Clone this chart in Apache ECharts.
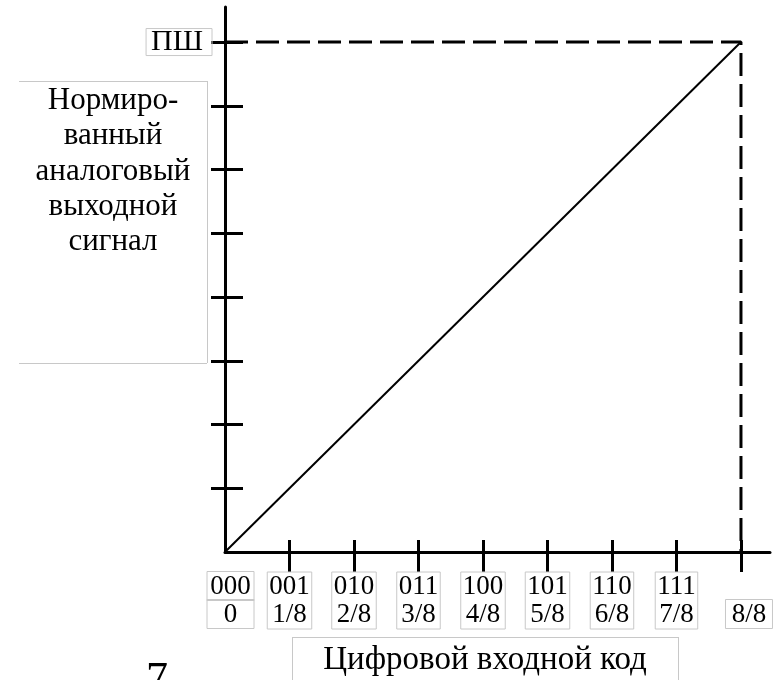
<!DOCTYPE html>
<html>
<head>
<meta charset="utf-8">
<script src="https://cdn.jsdelivr.net/npm/echarts@6/dist/echarts.min.js"></script>
<style>html,body{margin:0;padding:0;background:#fff}#c{width:779px;height:680px}</style>
</head>
<body>
<div id="c"></div>
<script>
// ---- data ----
var codes = ['000','001','010','011','100','101','110','111'];
var fractions = ['0','1/8','2/8','3/8','4/8','5/8','6/8','7/8','8/8'];
var tickValues = [1,2,3,4,5,6,7,8];
var boxedLabelValues = [1,2,3,4,5,6,7];
var fullScale = 8;
var transferLine = [[0,0],[8,8]];
var dashedGuide = [[0,8],[8,8],[8,0]];
var yTopLabel = 'ПШ';
var yTitleLines = ['Нормиро-','ванный','аналоговый','выходной','сигнал'];
var xTitle = 'Цифровой входной код';
var figNumber = '7';

var FONT = '"Liberation Serif","Times New Roman",serif';
var BOX = '#c8c8c8';

var chart = echarts.init(document.getElementById('c'), null, {renderer:'canvas'});

var option = {
  backgroundColor:'#fff',
  animation:false,
  grid:{left:225,right:9,top:7,bottom:128,containLabel:false},
  xAxis:[{
    type:'value',min:0,max:8.45,
    axisLine:{show:true,lineStyle:{color:'#000',width:3}},
    axisTick:{show:true,customValues:tickValues,inside:false,length:20,lineStyle:{color:'#000',width:3}},
    splitLine:{show:false},
    axisLabel:{
      show:true,customValues:boxedLabelValues,margin:20,
      formatter:function(v){return codes[v]+'\n'+fractions[v];},
      fontFamily:FONT,fontSize:27,color:'#000',lineHeight:28,
      borderColor:BOX,borderWidth:1,padding:[1,2,0,2]
    }
  },{
    type:'value',min:0,max:8.45,position:'bottom',
    axisLine:{show:false},
    axisTick:{show:true,customValues:tickValues,inside:true,length:12,lineStyle:{color:'#000',width:3}},
    splitLine:{show:false},
    axisLabel:{
      show:true,customValues:[0,8],margin:20,
      formatter:function(v){
        if(v===0){return '{sp|}{b|'+codes[0]+'}\n{sp|}{b|'+fractions[0]+'}';}
        return '{e|}\n{sp8|}{b|'+fractions[v]+'}';
      },
      fontFamily:FONT,fontSize:27,color:'#000',lineHeight:28,
      rich:{
        sp:{width:11,height:28},
        sp8:{width:16,height:28},
        e:{height:28,lineHeight:28},
        b:{fontFamily:FONT,fontSize:27,color:'#000',borderColor:BOX,borderWidth:1,width:39,align:'center',padding:[1,4,0,4],lineHeight:28,height:28}
      }
    }
  }],
  yAxis:[{
    type:'value',min:0,max:8.55,
    axisLine:{show:true,lineStyle:{color:'#000',width:3}},
    axisTick:{show:true,customValues:tickValues,inside:false,length:14,lineStyle:{color:'#000',width:3}},
    splitLine:{show:false},
    axisLabel:{
      show:true,customValues:[fullScale],margin:13,
      formatter:function(){return yTopLabel;},
      fontFamily:FONT,fontSize:30,color:'#000',lineHeight:27,
      borderColor:BOX,borderWidth:1,padding:[0,9,0,5]
    }
  },{
    type:'value',min:0,max:8.55,position:'left',
    axisLine:{show:false},
    axisTick:{show:true,customValues:tickValues,inside:true,length:18,lineStyle:{color:'#000',width:3}},
    splitLine:{show:false},
    axisLabel:{show:false}
  }],
  series:[{
    type:'line',xAxisIndex:0,yAxisIndex:0,data:dashedGuide,symbol:'none',
    lineStyle:{color:'#000',width:3,type:[23,8]},z:3
  },{
    type:'line',xAxisIndex:0,yAxisIndex:0,data:transferLine,symbol:'none',
    lineStyle:{color:'#000',width:2},z:4
  }],
  graphic:[]
};

// y title box (no left border)
var g = [];
g.push({type:'line',shape:{x1:19,y1:81.5,x2:207,y2:81.5},style:{stroke:BOX,lineWidth:1}});
g.push({type:'line',shape:{x1:207.5,y1:81,x2:207.5,y2:363},style:{stroke:BOX,lineWidth:1}});
g.push({type:'line',shape:{x1:19,y1:363.5,x2:207,y2:363.5},style:{stroke:BOX,lineWidth:1}});
yTitleLines.forEach(function(t,i){
  g.push({type:'text',x:113,y:101+i*35.2,style:{text:t,font:'31px '+FONT,fill:'#000',textAlign:'center',textVerticalAlign:'middle'}});
});
// x title box
g.push({type:'line',shape:{x1:292.5,y1:637,x2:292.5,y2:680},style:{stroke:BOX,lineWidth:1}});
g.push({type:'line',shape:{x1:292,y1:637.5,x2:679,y2:637.5},style:{stroke:BOX,lineWidth:1}});
g.push({type:'line',shape:{x1:678.5,y1:637,x2:678.5,y2:680},style:{stroke:BOX,lineWidth:1}});
g.push({type:'text',x:485,y:660,style:{text:xTitle,font:'33px '+FONT,fill:'#000',textAlign:'center',textVerticalAlign:'middle'}});
g.push({type:'text',x:157,y:680,style:{text:figNumber,font:'44px '+FONT,fill:'#000',textAlign:'center',textVerticalAlign:'middle'}});
option.graphic = g;

chart.setOption(option);
</script>
</body>
</html>
